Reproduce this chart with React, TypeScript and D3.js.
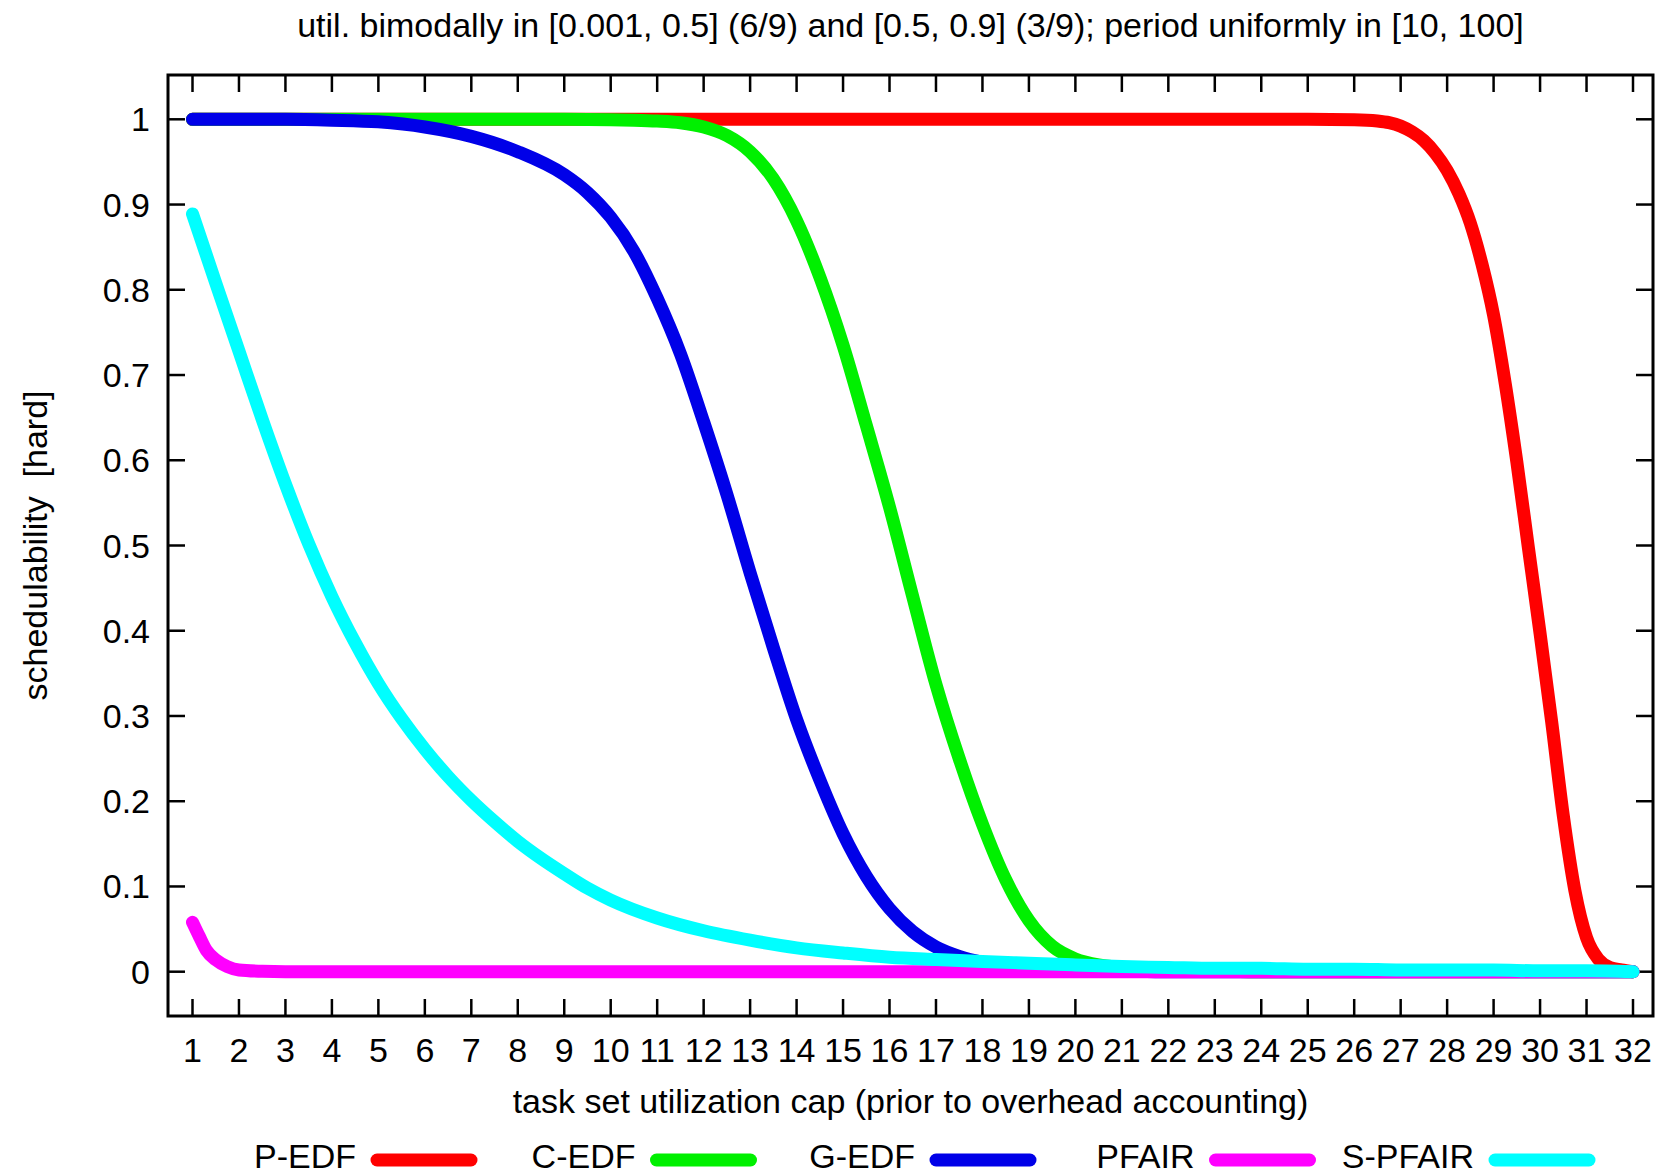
import React from "react";
import * as d3 from "d3";

const title = "util. bimodally in [0.001, 0.5] (6/9) and [0.5, 0.9] (3/9); period uniformly in [10, 100]";
const xLabel = "task set utilization cap (prior to overhead accounting)";
const yLabel = "schedulability  [hard]";

const xTicks = d3.range(1, 33);
const yTicks = [0, 0.1, 0.2, 0.3, 0.4, 0.5, 0.6, 0.7, 0.8, 0.9, 1];

const pedfX = [1, 5, 10, 15, 20, 25, 26, 26.5, 26.75, 27, 27.25, 27.5, 27.75, 28, 28.25, 28.5, 28.75, 29, 29.25, 29.5, 29.75, 30, 30.25, 30.5, 30.75, 31, 31.25, 31.5, 31.75, 32];
const pedfY = [1, 1, 1, 1, 1, 1, 0.9995, 0.998, 0.996, 0.992, 0.985, 0.975, 0.96, 0.94, 0.913, 0.878, 0.83, 0.77, 0.69, 0.598, 0.497, 0.397, 0.293, 0.183, 0.095, 0.04, 0.015, 0.005, 0.002, 0];

const cedfX = [1, 5, 9, 10, 10.5, 11, 11.5, 12, 12.5, 13, 13.5, 14, 14.5, 15, 15.5, 16, 16.5, 17, 17.5, 18, 18.5, 19, 19.5, 20, 20.5, 21, 22, 23, 24, 28, 32];
const cedfY = [1, 1, 1, 0.9995, 0.999, 0.998, 0.996, 0.991, 0.981, 0.962, 0.93, 0.881, 0.815, 0.735, 0.641, 0.545, 0.44, 0.337, 0.25, 0.173, 0.108, 0.06, 0.03, 0.015, 0.008, 0.005, 0.002, 0.001, 0, 0, 0];

const gedfX = [1, 2, 3, 4, 5, 6, 7, 8, 9, 9.5, 10, 10.5, 11, 11.5, 12, 12.5, 13, 13.5, 14, 14.5, 15, 15.5, 16, 16.5, 17, 17.5, 18, 19, 20, 21, 22, 32];
const gedfY = [1, 1, 1, 0.999, 0.997, 0.991, 0.98, 0.962, 0.935, 0.914, 0.885, 0.845, 0.79, 0.725, 0.645, 0.56, 0.468, 0.38, 0.296, 0.225, 0.162, 0.112, 0.074, 0.047, 0.029, 0.018, 0.011, 0.005, 0.002, 0.001, 0, 0];

const pfairX = [1, 1.15, 1.3, 1.5, 1.75, 2, 2.5, 3, 10, 20, 32];
const pfairY = [0.058, 0.041, 0.025, 0.014, 0.006, 0.002, 0.0005, 0, 0, 0, 0];

const spfairX = [1, 1.5, 2, 2.5, 3, 3.5, 4, 4.5, 5, 5.5, 6, 6.5, 7, 7.5, 8, 8.5, 9, 9.5, 10, 11, 12, 13, 14, 15, 16, 17, 18, 19, 20, 21, 22, 23, 24, 25, 26, 27, 28, 29, 30, 31, 32];
const spfairY = [0.889, 0.808, 0.728, 0.648, 0.572, 0.502, 0.44, 0.386, 0.338, 0.297, 0.261, 0.229, 0.201, 0.176, 0.153, 0.133, 0.115, 0.098, 0.084, 0.063, 0.048, 0.037, 0.028, 0.022, 0.017, 0.0143, 0.012, 0.01, 0.008, 0.006, 0.005, 0.004, 0.004, 0.003, 0.003, 0.002, 0.002, 0.002, 0.001, 0.001, 0];

const seriesNames = ["P-EDF", "C-EDF", "G-EDF", "PFAIR", "S-PFAIR"];
const seriesColors = ["#ff0000", "#00f000", "#0000e8", "#ff00ff", "#00ffff"];
const seriesXs = [pedfX, cedfX, gedfX, pfairX, spfairX];
const seriesYs = [pedfY, cedfY, gedfY, pfairY, spfairY];

const W = 1662;
const H = 1176;
const frame = { left: 168, right: 1653, top: 75, bottom: 1016 };
const FONT = "'Liberation Sans', Arial, Helvetica, sans-serif";

export default function App() {
  const x = d3.scaleLinear().domain([1, 32]).range([192.5, 1633]);
  const y = d3.scaleLinear().domain([0, 1]).range([971.7, 119.3]);
  const line = d3
    .line<[number, number]>()
    .x((d) => x(d[0]))
    .y((d) => y(d[1]))
    .curve(d3.curveMonotoneX);

  const tickLen = 17;
  const fs = 34;
  const lw = 13;

  return (
    <svg
      width={W}
      height={H}
      viewBox={`0 0 ${W} ${H}`}
      style={{ position: "absolute", left: 0, top: 0, background: "#fff" }}
      fontFamily={FONT}
    >
      <rect x={0} y={0} width={W} height={H} fill="#fff" />
      <text x={(frame.left + frame.right) / 2} y={37} fontSize={fs} textAnchor="middle" fill="#000">
        {title}
      </text>

      {/* ticks */}
      <g stroke="#000" strokeWidth={2.5}>
        {xTicks.map((t) => (
          <g key={"xt" + t}>
            <line x1={x(t)} x2={x(t)} y1={frame.bottom} y2={frame.bottom - tickLen} />
            <line x1={x(t)} x2={x(t)} y1={frame.top} y2={frame.top + tickLen} />
          </g>
        ))}
        {yTicks.map((t) => (
          <g key={"yt" + t}>
            <line x1={frame.left} x2={frame.left + tickLen} y1={y(t)} y2={y(t)} />
            <line x1={frame.right} x2={frame.right - tickLen} y1={y(t)} y2={y(t)} />
          </g>
        ))}
      </g>

      {/* series */}
      <g fill="none" strokeLinecap="round" strokeLinejoin="round">
        {seriesNames.map((name, i) => {
          const pts = seriesXs[i].map((xv, j) => [xv, seriesYs[i][j]] as [number, number]);
          return <path key={name} d={line(pts) || ""} stroke={seriesColors[i]} strokeWidth={lw} />;
        })}
      </g>

      <rect
        x={frame.left}
        y={frame.top}
        width={frame.right - frame.left}
        height={frame.bottom - frame.top}
        fill="none"
        stroke="#000"
        strokeWidth={3}
      />

      {/* tick labels */}
      <g fontSize={fs} fill="#000">
        {xTicks.map((t) => (
          <text key={"xl" + t} x={x(t)} y={1062} textAnchor="middle">
            {t}
          </text>
        ))}
        {yTicks.map((t) => (
          <text key={"yl" + t} x={150} y={y(t) + 12} textAnchor="end">
            {String(t)}
          </text>
        ))}
      </g>

      <text x={(frame.left + frame.right) / 2} y={1113} fontSize={fs} textAnchor="middle" fill="#000">
        {xLabel}
      </text>
      <text
        transform={`translate(47, ${(frame.top + frame.bottom) / 2}) rotate(-90)`}
        fontSize={fs}
        textAnchor="middle"
        fill="#000"
        style={{ whiteSpace: "pre" }}
      >
        {yLabel}
      </text>

      {/* legend */}
      <g>
        {seriesNames.map((name, i) => {
          const lx = 370 + i * 279.5;
          return (
            <g key={"lg" + name}>
              <text x={lx - 14} y={1168} fontSize={fs} textAnchor="end" fill="#000">
                {name}
              </text>
              <line
                x1={lx + 7}
                x2={lx + 101}
                y1={1160}
                y2={1160}
                stroke={seriesColors[i]}
                strokeWidth={lw}
                strokeLinecap="round"
              />
            </g>
          );
        })}
      </g>
    </svg>
  );
}
